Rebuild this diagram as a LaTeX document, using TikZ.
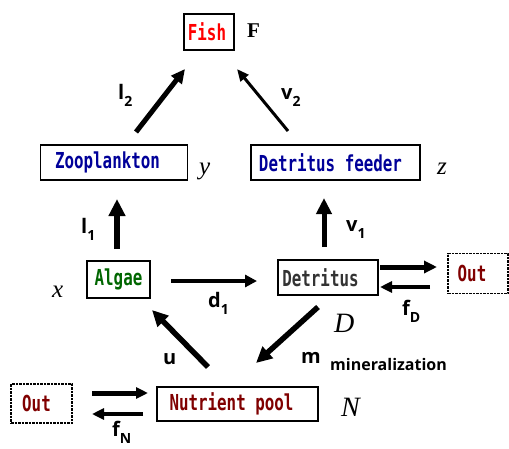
\documentclass[tikz,border=0pt]{standalone}
\usepackage{fontspec}
\usetikzlibrary{arrows.meta}
\setmainfont{Liberation Serif}
\newfontfamily\boxfont{DejaVu Sans Mono}[FakeStretch=0.72]
\newfontfamily\labfont{Open Sans}
\definecolor{fishred}{HTML}{FF0000}
\definecolor{zooblue}{HTML}{000099}
\definecolor{algaegreen}{HTML}{006600}
\definecolor{detgray}{HTML}{333333}
\definecolor{outred}{HTML}{800000}
\newcommand{\lbl}[2]{{\labfont\bfseries\fontsize{20}{20}\selectfont #1}\raisebox{-7pt}{\labfont\bfseries\fontsize{14}{14}\selectfont #2}}
\newcommand{\btxt}[2]{\textcolor{#1}{\boxfont\bfseries\fontsize{22}{22}\selectfont #2}}
\tikzset{
  box/.style={draw, line width=1.2pt, inner sep=0pt, fill=white},
  outbox/.style={box, dash pattern=on 2.5pt off 1pt, line width=1.8pt},
  lab/.style={anchor=base west, inner sep=0pt},
  var/.style={anchor=base west, inner sep=0pt, font=\fontsize{25}{25}\selectfont\itshape},
  bigvar/.style={anchor=base west, inner sep=0pt, font=\fontsize{28}{28}\selectfont\itshape},
  arrw/.style={line width=#1, line cap=butt},
}
\begin{document}
\begin{tikzpicture}[x=1pt,y=-1pt]
\useasboundingbox[fill=white] (0,0) rectangle (509,448);
% boxes
\node[box, minimum width=50pt, minimum height=36pt] (fish) at (209,32) {\btxt{fishred}{Fish}\hspace*{4pt}};
\node[box, minimum width=147pt, minimum height=35pt] (zoo) at (114,162.5) {\btxt{zooblue}{Zooplankton}\hspace*{13pt}};
\node[box, minimum width=169pt, minimum height=35pt] (detf) at (335.5,162.5) {\btxt{zooblue}{Detritus feeder}\hspace*{10pt}};
\node[box, minimum width=63pt, minimum height=37pt] (algae) at (118.5,279.5) {\btxt{algaegreen}{Algae}};
\node[box, minimum width=100pt, minimum height=35pt] (detr) at (328,277.5) {\btxt{detgray}{Detritus}\hspace*{15pt}};
\node[outbox, minimum width=60pt, minimum height=40pt] (outR) at (478,273.5) {\btxt{outred}{Out}\hspace*{12pt}};
\node[box, minimum width=161pt, minimum height=34pt] (nut) at (237.5,404) {\btxt{outred}{Nutrient pool}\hspace*{12pt}};
\node[outbox, minimum width=61pt, minimum height=39pt] (outL) at (41.5,403.5) {\btxt{outred}{Out}\hspace*{10pt}};
% variable names
\node[anchor=base west, inner sep=0pt, font=\fontsize{21}{21}\selectfont\bfseries] (vF) at (247,37) {F};
\node[var] (vy) at (199,174) {y};
\node[var] (vz) at (437,174) {z};
\node[var] (vx) at (52,297) {x};
\node[bigvar] (vD) at (334,332) {D};
\node[bigvar] (vN) at (341,416) {N};
% arrow end points
\coordinate (l2s) at (136,132); \coordinate (l2e) at (185,69);
\coordinate (v2s) at (288,131); \coordinate (v2e) at (237,69);
\coordinate (l1s) at (117,249); \coordinate (l1e) at (117,199);
\coordinate (v1s) at (324,247); \coordinate (v1e) at (324,198);
\coordinate (d1s) at (171,281); \coordinate (d1e) at (257,281);
\coordinate (oRs) at (380,267); \coordinate (oRe) at (437,267);
\coordinate (iRs) at (430,287); \coordinate (iRe) at (380,287);
\coordinate (us) at (208,367); \coordinate (ue) at (152,310);
\coordinate (ms) at (318,307); \coordinate (me) at (256,363);
\coordinate (iLs) at (92,393); \coordinate (iLe) at (148,393);
\coordinate (oLs) at (143,414); \coordinate (oLe) at (92,414);
% arrows
\draw[arrw=5pt, -{Triangle[length=14pt,width=13pt]}] (l2s) -- (l2e);
\draw[arrw=3pt, -{Triangle[length=12pt,width=10pt]}] (v2s) -- (v2e);
\draw[arrw=5.5pt, -{Triangle[length=17pt,width=16pt]}] (l1s) -- (l1e);
\draw[arrw=5pt, -{Triangle[length=16pt,width=15pt]}] (v1s) -- (v1e);
\draw[arrw=4pt, -{Triangle[length=12pt,width=12pt]}] (d1s) -- (d1e);
\draw[arrw=5pt, -{Triangle[length=13pt,width=12pt]}] (oRs) -- (oRe);
\draw[arrw=4pt, -{Triangle[length=12pt,width=11pt]}] (iRs) -- (iRe);
\draw[arrw=5.5pt, -{Triangle[length=16pt,width=15pt]}] (us) -- (ue);
\draw[arrw=5.5pt, -{Triangle[length=16pt,width=15pt]}] (ms) -- (me);
\draw[arrw=5pt, -{Triangle[length=12pt,width=11pt]}] (iLs) -- (iLe);
\draw[arrw=4pt, -{Triangle[length=12pt,width=11pt]}] (oLs) -- (oLe);
% labels
\node[lab] (tl2) at (118,99) {\lbl{l}{2}};
\node[lab] (tv2) at (281,99) {\lbl{v}{2}};
\node[lab] (tl1) at (81,233) {\lbl{l}{1}};
\node[lab] (tv1) at (346,231) {\lbl{v}{1}};
\node[lab] (td1) at (208,307) {\lbl{d}{1}};
\node[lab] (tfD) at (402,315) {\lbl{f}{D}};
\node[lab] (tfN) at (112,436) {\lbl{f}{N}};
\node[lab] (tu) at (163,364) {\lbl{u}{}};
\node[lab] (tm) at (301,363) {\lbl{m}{}};
\node[lab] (tmin) at (330,370) {\labfont\bfseries\fontsize{16}{16}\selectfont mineralization};
\end{tikzpicture}
\end{document}
